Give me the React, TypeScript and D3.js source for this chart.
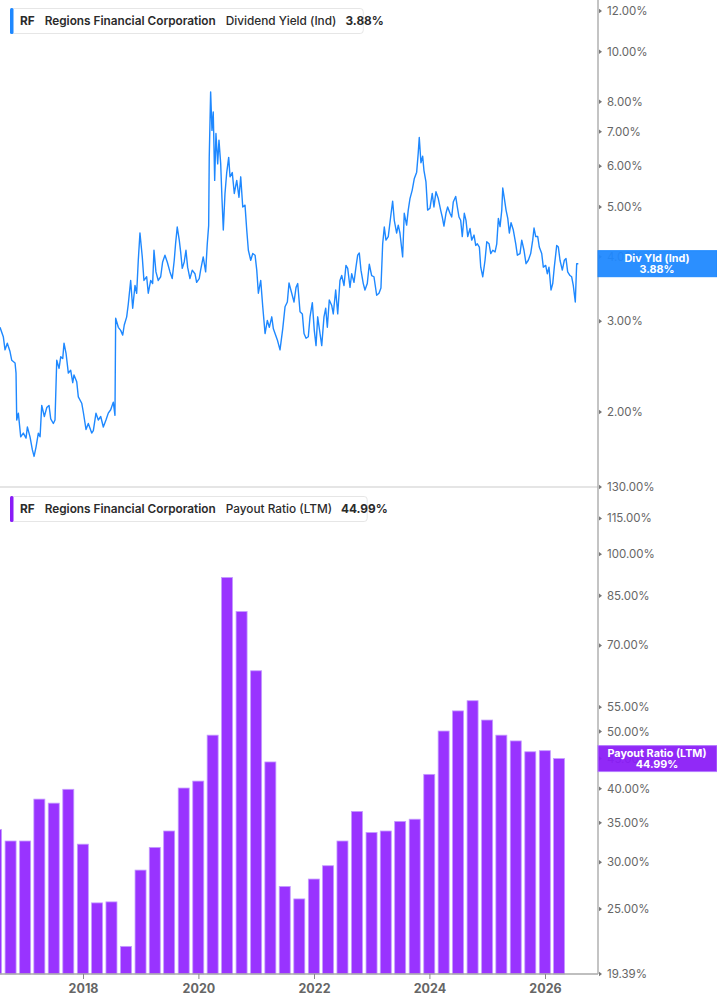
import React, { useEffect, useRef } from "react";
import * as d3 from "d3";

// dividend yield (indicated), in % (dates as decimal years)
const yieldDates = [
  2016.563, 2016.620, 2016.650, 2016.689, 2016.736, 2016.766, 2016.823, 2016.840, 2016.852, 2016.880,
  2016.921, 2016.966, 2017.013, 2017.036, 2017.082, 2017.122, 2017.152, 2017.186, 2017.226, 2017.256,
  2017.285, 2017.330, 2017.372, 2017.411, 2017.441, 2017.486, 2017.515, 2017.545, 2017.585, 2017.614,
  2017.649, 2017.671, 2017.706, 2017.746, 2017.787, 2017.822, 2017.844, 2017.891, 2017.919, 2017.978,
  2018.005, 2018.052, 2018.092, 2018.151, 2018.179, 2018.225, 2018.265, 2018.307, 2018.352, 2018.398,
  2018.438, 2018.480, 2018.525, 2018.554, 2018.566, 2018.612, 2018.653, 2018.688, 2018.715, 2018.757,
  2018.785, 2018.826, 2018.861, 2018.901, 2018.930, 2018.958, 2018.987, 2019.027, 2019.056, 2019.103,
  2019.131, 2019.173, 2019.207, 2019.230, 2019.264, 2019.304, 2019.346, 2019.380, 2019.420, 2019.460,
  2019.507, 2019.546, 2019.581, 2019.605, 2019.633, 2019.668, 2019.692, 2019.720, 2019.754, 2019.784,
  2019.813, 2019.853, 2019.893, 2019.940, 2019.969, 2020.014, 2020.038, 2020.083, 2020.125, 2020.153,
  2020.177, 2020.187, 2020.211, 2020.234, 2020.256, 2020.281, 2020.303, 2020.333, 2020.355, 2020.385,
  2020.407, 2020.430, 2020.459, 2020.489, 2020.523, 2020.546, 2020.585, 2020.620, 2020.662, 2020.701,
  2020.731, 2020.766, 2020.805, 2020.835, 2020.863, 2020.904, 2020.939, 2020.979, 2021.008, 2021.036,
  2021.077, 2021.112, 2021.152, 2021.191, 2021.226, 2021.268, 2021.296, 2021.325, 2021.365, 2021.411,
  2021.458, 2021.498, 2021.538, 2021.567, 2021.614, 2021.654, 2021.689, 2021.718, 2021.758, 2021.798,
  2021.827, 2021.862, 2021.901, 2021.931, 2021.971, 2022.005, 2022.035, 2022.064, 2022.104, 2022.134,
  2022.173, 2022.203, 2022.231, 2022.265, 2022.307, 2022.334, 2022.376, 2022.411, 2022.450, 2022.480,
  2022.520, 2022.554, 2022.584, 2022.624, 2022.653, 2022.693, 2022.727, 2022.757, 2022.785, 2022.814,
  2022.854, 2022.883, 2022.923, 2022.958, 2022.999, 2023.039, 2023.086, 2023.126, 2023.160, 2023.190,
  2023.218, 2023.247, 2023.287, 2023.328, 2023.363, 2023.391, 2023.432, 2023.460, 2023.489, 2023.536,
  2023.564, 2023.605, 2023.633, 2023.663, 2023.702, 2023.737, 2023.779, 2023.806, 2023.824, 2023.853,
  2023.883, 2023.905, 2023.940, 2023.969, 2024.009, 2024.049, 2024.078, 2024.113, 2024.153, 2024.194,
  2024.222, 2024.251, 2024.286, 2024.315, 2024.355, 2024.385, 2024.412, 2024.454, 2024.482, 2024.511,
  2024.540, 2024.568, 2024.603, 2024.632, 2024.662, 2024.702, 2024.731, 2024.771, 2024.800, 2024.828,
  2024.863, 2024.887, 2024.922, 2024.961, 2024.991, 2025.031, 2025.060, 2025.095, 2025.135, 2025.164,
  2025.192, 2025.221, 2025.251, 2025.268, 2025.296, 2025.325, 2025.355, 2025.382, 2025.412, 2025.451,
  2025.493, 2025.521, 2025.567, 2025.597, 2025.636, 2025.671, 2025.711, 2025.752, 2025.787, 2025.810,
  2025.839, 2025.874, 2025.901, 2025.943, 2025.971, 2026.012, 2026.040, 2026.069, 2026.104, 2026.134,
  2026.161, 2026.203, 2026.231, 2026.260, 2026.300, 2026.335, 2026.364, 2026.393, 2026.433, 2026.462,
  2026.490, 2026.525, 2026.549, 2026.577,
];
const yieldValues = [
  2.92, 2.80, 2.64, 2.72, 2.62, 2.52, 2.49, 2.38, 1.93, 1.99,
  1.79, 1.82, 1.78, 1.87, 1.79, 1.69, 1.64, 1.71, 1.82, 1.79,
  2.06, 1.96, 2.04, 2.06, 1.94, 1.90, 1.93, 2.52, 2.43, 2.56,
  2.54, 2.72, 2.60, 2.38, 2.41, 2.28, 2.36, 2.29, 2.14, 2.08,
  2.00, 1.85, 1.90, 1.82, 1.84, 1.99, 1.93, 1.96, 1.87, 1.93,
  1.99, 2.02, 2.09, 1.97, 3.04, 2.92, 2.88, 2.82, 2.95, 3.06,
  3.24, 3.60, 3.18, 3.52, 3.40, 3.94, 4.45, 4.00, 3.60, 3.66,
  3.40, 3.60, 3.55, 4.12, 3.74, 3.60, 3.66, 3.91, 4.03, 3.91,
  3.74, 3.63, 3.94, 4.25, 4.57, 4.31, 4.09, 3.80, 3.91, 4.12,
  3.82, 3.63, 3.77, 3.71, 3.57, 3.63, 3.77, 4.00, 3.74, 4.24,
  4.60, 6.24, 8.36, 7.04, 7.64, 5.63, 6.94, 6.06, 6.74, 6.06,
  5.19, 4.51, 5.31, 5.83, 6.24, 5.72, 5.83, 5.31, 5.63, 5.22,
  5.72, 5.00, 5.04, 4.51, 4.12, 3.94, 4.06, 4.03, 3.77, 3.40,
  3.60, 3.20, 2.84, 3.01, 2.92, 3.06, 2.90, 2.84, 2.76, 2.64,
  2.90, 3.20, 3.27, 3.56, 3.40, 3.27, 3.49, 3.55, 3.13, 3.10,
  2.84, 2.78, 2.80, 3.06, 3.26, 2.88, 2.69, 3.06, 2.84, 2.69,
  3.06, 3.18, 2.92, 3.30, 3.22, 3.10, 3.45, 3.10, 3.60, 3.68,
  3.52, 3.85, 3.80, 3.49, 3.71, 3.57, 3.82, 4.03, 4.07, 3.77,
  3.55, 3.45, 3.55, 3.87, 3.68, 3.66, 3.37, 3.40, 3.48, 4.24,
  4.57, 4.31, 4.38, 4.78, 5.13, 4.71, 4.45, 4.61, 4.45, 4.00,
  4.86, 4.61, 4.93, 5.19, 5.39, 5.67, 5.84, 6.36, 6.82, 6.09,
  6.27, 5.89, 5.59, 4.93, 4.97, 5.31, 5.00, 5.35, 5.19, 4.93,
  4.78, 4.59, 4.86, 5.00, 4.86, 4.78, 5.11, 5.24, 5.00, 4.78,
  4.71, 4.38, 4.86, 4.71, 4.38, 4.54, 4.31, 4.41, 4.21, 4.24,
  4.18, 3.82, 3.66, 3.94, 4.28, 4.24, 4.06, 4.12, 4.09, 4.24,
  4.75, 4.58, 4.93, 5.44, 5.19, 4.93, 4.75, 4.45, 4.66, 4.51,
  4.24, 4.03, 4.06, 4.31, 4.12, 3.88, 3.94, 4.06, 4.31, 4.55,
  4.38, 4.38, 4.18, 4.06, 3.82, 3.85, 3.71, 3.82, 3.45, 3.55,
  3.82, 4.21, 4.18, 3.94, 3.77, 3.94, 3.97, 3.74, 3.68, 3.66,
  3.52, 3.27, 3.88, 3.88,
];

// payout ratio (LTM), quarterly, in %
const payoutQuarters = [
  "2016-06-30", "2016-09-30", "2016-12-31", "2017-03-31", "2017-06-30", "2017-09-30", "2017-12-31",
  "2018-03-31", "2018-06-30", "2018-09-30", "2018-12-31", "2019-03-31", "2019-06-30", "2019-09-30",
  "2019-12-31", "2020-03-31", "2020-06-30", "2020-09-30", "2020-12-31", "2021-03-31", "2021-06-30",
  "2021-09-30", "2021-12-31", "2022-03-31", "2022-06-30", "2022-09-30", "2022-12-31", "2023-03-31",
  "2023-06-30", "2023-09-30", "2023-12-31", "2024-03-31", "2024-06-30", "2024-09-30", "2024-12-31",
  "2025-03-31", "2025-06-30", "2025-09-30", "2025-12-31", "2026-03-31",
];
const payoutValues = [
  34.1, 32.6, 32.6, 38.4, 37.8, 39.9, 32.2, 25.6, 25.7, 21.6,
  29.1, 31.8, 33.9, 40.1, 41.2, 49.3, 91.3, 79.9, 63.4, 44.4,
  27.3, 26.0, 28.1, 29.6, 32.6, 36.6, 33.7, 33.9, 35.2, 35.5,
  42.3, 50.1, 54.2, 56.4, 52.3, 49.3, 48.2, 46.2, 46.4, 44.99,
];

const yieldTicks = [2, 3, 4, 5, 6, 7, 8, 10, 12];
const payoutTicks = [19.39, 25, 30, 35, 40, 45, 50, 55, 70, 85, 100, 115, 130];
const yearTicks = [2018, 2020, 2022, 2024, 2026];

const yieldLast = 3.88;
const payoutLast = 44.99;

const BLUE = "#1e88ff";
const PURPLE = "#9933ff";

function fromDecimalYear(v: number) {
  const yr = Math.floor(v);
  const a = new Date(yr, 0, 1).getTime();
  const b = new Date(yr + 1, 0, 1).getTime();
  return new Date(a + (v - yr) * (b - a));
}

const App: React.FC = () => {
  const svgRef = useRef<SVGSVGElement | null>(null);

  useEffect(() => {
    const width = 717;
    const height = 1005;
    const axisX = 598;
    const splitY = 487;
    const baseY = 974;

    const svg = d3.select(svgRef.current);
    svg.selectAll("*").remove();
    svg
      .attr("width", width)
      .attr("height", height)
      .attr("viewBox", [0, 0, width, height])
      .style("font-family", "Inter, 'Noto Sans', sans-serif");

    const x = d3
      .scaleTime()
      .domain([new Date(2018, 0, 1), new Date(2026, 0, 1)])
      .range([83, 545]);

    const yTop = d3.scaleLog().domain([2, 12]).range([412, 11]);
    const yBot = d3.scaleLog().domain([19.39, 130]).range([baseY, splitY]);

    svg.append("rect").attr("width", width).attr("height", height).attr("fill", "#fff");

    // clip for the top pane
    svg
      .append("clipPath")
      .attr("id", "topclip")
      .append("rect")
      .attr("x", 0)
      .attr("y", 0)
      .attr("width", axisX)
      .attr("height", splitY);

    // separator between panes
    svg
      .append("line")
      .attr("x1", 0)
      .attr("x2", axisX)
      .attr("y1", splitY)
      .attr("y2", splitY)
      .attr("stroke", "#dcdcdc")
      .attr("stroke-width", 1.5);

    // dividend yield line
    const pts = yieldDates.map((d, i) => ({ date: fromDecimalYear(d), v: yieldValues[i] }));
    const line = d3
      .line<{ date: Date; v: number }>()
      .x((d) => x(d.date))
      .y((d) => yTop(d.v));
    svg
      .append("path")
      .datum(pts)
      .attr("clip-path", "url(#topclip)")
      .attr("fill", "none")
      .attr("stroke", BLUE)
      .attr("stroke-width", 1.4)
      .attr("stroke-linejoin", "round")
      .attr("d", line);

    // payout bars
    const parse = d3.timeParse("%Y-%m-%d");
    const barW = 11;
    svg
      .append("g")
      .selectAll("rect")
      .data(payoutValues)
      .join("rect")
      .attr("x", (_, i) => x(parse(payoutQuarters[i]) as Date) - barW / 2)
      .attr("y", (d) => yBot(d))
      .attr("width", barW)
      .attr("height", (d) => baseY - yBot(d))
      .attr("fill", PURPLE)
      .attr("stroke", "#c49cff")
      .attr("stroke-width", 0.8);

    // bottom axis
    svg
      .append("line")
      .attr("x1", 0)
      .attr("x2", axisX)
      .attr("y1", baseY)
      .attr("y2", baseY)
      .attr("stroke", "#aaa")
      .attr("stroke-width", 1.5);

    const gx = svg
      .append("g")
      .attr("transform", `translate(0,${baseY})`)
      .call(
        d3
          .axisBottom(x)
          .tickValues(yearTicks.map((y) => new Date(y, 0, 1)))
          .tickFormat((d) => d3.timeFormat("%Y")(d as Date))
          .tickSize(5)
          .tickPadding(5),
      );
    gx.select(".domain").remove();
    gx.selectAll("line").attr("stroke", "#888");
    gx.selectAll("text")
      .attr("fill", "#666")
      .style("font-size", "12.5px")
      .style("font-weight", "700")
      .style("font-family", "Inter, sans-serif");

    // right axis
    svg
      .append("line")
      .attr("x1", axisX)
      .attr("x2", axisX)
      .attr("y1", 0)
      .attr("y2", baseY)
      .attr("stroke", "#b0b0b0")
      .attr("stroke-width", 1.5);

    const fmt = (v: number) => d3.format(".2f")(v) + "%";
    const drawTicks = (ticks: number[], scale: (v: number) => number) => {
      const g = svg.append("g");
      const t = g.selectAll("g").data(ticks).join("g").attr("transform", (d) => `translate(${axisX},${scale(d)})`);
      t.append("path").attr("d", "M1,-2.2L4,0L1,2.2Z").attr("fill", "#777");
      t.append("text")
        .attr("x", 9)
        .attr("dy", "0.35em")
        .attr("fill", "#666")
        .style("font-size", "11.5px")
        .text((d) => fmt(d));
    };
    drawTicks(yieldTicks, yTop);
    drawTicks(payoutTicks, yBot);

    // last-value labels on the axis
    const tag = (v: number, scale: (v: number) => number, fill: string, stroke: string, name: string) => {
      const cy = scale(v);
      const g = svg.append("g");
      g.append("rect")
        .attr("x", axisX)
        .attr("y", cy - 13)
        .attr("width", width - axisX)
        .attr("height", 26)
        .attr("fill", fill)
        .attr("fill-opacity", 0.94)
        .attr("stroke", stroke)
        .attr("stroke-width", 1);
      const lines = [name, fmt(v)];
      g.selectAll("text.tag")
        .data(lines)
        .join("text")
        .attr("class", "tag")
        .attr("x", axisX + 59)
        .attr("y", (_, i) => cy + (i === 0 ? -5.5 : 6))
        .attr("dy", "0.35em")
        .attr("text-anchor", "middle")
        .attr("fill", "#fff")
        .style("font-size", "10.8px")
        .style("font-weight", "700")
        .text((d) => d);
    };
    tag(yieldLast, yTop, BLUE, BLUE, "Div Yld (Ind)");
    tag(payoutLast, yBot, "#8a1cf7", "#b57cff", "Payout Ratio (LTM)");

    // legends
    const legend = (y0: number, color: string, metric: string, value: string) => {
      const g = svg.append("g");
      const box = g
        .append("rect")
        .attr("x", 10.5)
        .attr("y", y0 + 0.5)
        .attr("height", 25)
        .attr("rx", 3)
        .attr("fill", "#fff")
        .attr("stroke", "#e6e6e6");
      g.append("rect").attr("x", 10).attr("y", y0).attr("width", 3.5).attr("height", 26).attr("rx", 1.5).attr("fill", color);
      const t = g
        .append("text")
        .attr("x", 20)
        .attr("y", y0 + 13)
        .attr("dy", "0.35em")
        .attr("fill", "#2b2b2b")
        .style("font-size", "11.8px");
      t.append("tspan").style("font-weight", 700).text("RF");
      t.append("tspan").attr("dx", 10).style("font-weight", 600).text("Regions Financial Corporation");
      t.append("tspan").attr("dx", 10).style("font-weight", 500).text(metric);
      t.append("tspan").attr("dx", 9).style("font-weight", 700).text(value);
      const len = (t.node() as SVGTextElement).getComputedTextLength();
      box.attr("width", Math.max(len + 18, 100));
    };
    legend(8, BLUE, "Dividend Yield (Ind)", fmt(yieldLast));
    legend(496, "#8a1cf7", "Payout Ratio (LTM)", fmt(payoutLast));
  }, []);

  return (
    <div style={{ position: "absolute", left: 0, top: 0 }}>
      <svg ref={svgRef}></svg>
    </div>
  );
};

export default App;
